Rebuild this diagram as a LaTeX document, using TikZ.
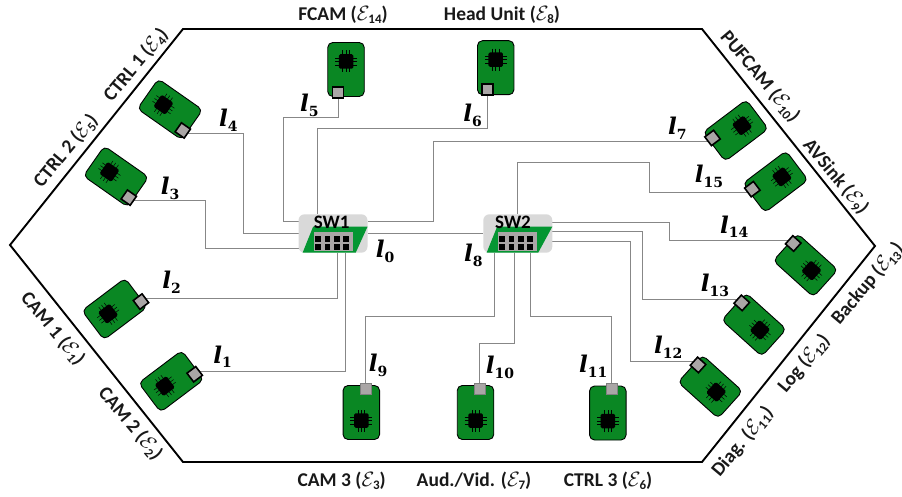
\documentclass[tikz,border=0pt]{standalone}
\usepackage[no-math]{fontspec}
\setmainfont{Carlito}
\newfontfamily\linkfont{DejaVu Serif}
\usetikzlibrary{backgrounds}
\definecolor{boardgreen}{RGB}{10,135,35}
\definecolor{swgreen}{RGB}{4,150,50}
\definecolor{swgray}{RGB}{217,217,217}
\definecolor{portgray}{RGB}{170,166,166}
\definecolor{wiregray}{RGB}{135,135,135}
\tikzset{
  board/.style={draw=black,line width=0.9pt,fill=boardgreen,rounded corners=5pt,minimum width=54pt,minimum height=36.5pt,inner sep=0pt},
  chip/.style={fill=black,rounded corners=1.5pt,minimum size=14.5pt,inner sep=0pt},
  pin/.style={line width=0.5pt,black},
  portdark/.style={draw=black,line width=1.6pt,fill=portgray,minimum size=11pt,inner sep=0pt},
  portlight/.style={draw=gray,line width=0.5pt,fill=portgray,minimum size=11pt,inner sep=0pt},
  wire/.style={draw=wiregray,line width=1pt},
  hexa/.style={draw=black,line width=1.9pt,line join=miter},
  caption/.style={font=\fontsize{19.5}{22}\selectfont\bfseries,inner sep=0pt,text=black!90},
  linklab/.style={font=\fontsize{23}{28}\selectfont\linkfont\bfseries,inner sep=0pt},
  swbox/.style={fill=swgray,rounded corners=6pt,minimum width=69pt,minimum height=38.4pt,inner sep=0pt},
  swlab/.style={font=\fontsize{19}{22}\selectfont\bfseries,inner sep=0pt}
}
\newcommand{\ee}[1]{$\mathcal{E}$\hspace{-1.2pt}\raisebox{-0.35ex}{\fontsize{13}{13}\selectfont\bfseries #1}}
\newcommand{\lk}[1]{{\itshape l}\raisebox{-0.4ex}{\fontsize{14}{14}\selectfont #1}}
\newcommand{\ecu}[7]{%
  \begin{scope}[shift={(#2,#3)},rotate=#4,transform shape]
    \node[board] (#1) at (0,0) {};
    \foreach \k in {-3.4,0,3.4}{
      \draw[pin] (-19,\k) -- (3,\k);
      \draw[pin] (-8+\k,-11) -- (-8+\k,11);
    }
    \node[chip] (#1c) at (-8,0) {};
    \node[#7] (#1p) at (#5,#6) {};
  \end{scope}}
\newcommand{\switchbox}[4]{%
  \node[swbox] (#1) at (#2,233.5) {};
  \begin{scope}[shift={(#2,233.5)}]
    \fill[swgreen] (-#3-1.2,-6.8) -- (34.5,-6.8) -- (#4,19) -- (-#3-11.6,19) -- cycle;
    \fill[portgray] (-#3,-1.3) rectangle (38.4-#3,17.5);
    \foreach \cx in {4,13.2,22.6,31.8}{
      \foreach \cy in {5.4,13.8}{
        \fill[black] (-#3+\cx-2.9,\cy-2.9) rectangle (-#3+\cx+2.9,\cy+2.9);
      }
    }
  \end{scope}}
\begin{document}
\begin{tikzpicture}[x=1pt,y=-1pt]
\useasboundingbox (0,0) rectangle (902,497);
\draw[hexa] (183,29) -- (702,29) -- (875,246) -- (702,462) -- (183,462) -- (10,245) -- cycle;

% ECUs: name, cx, cy, angle, u, s, port style
\ecu{ctrlA}{170}{109.3}{-35}{22.6}{10}{portdark}
\ecu{ctrlB}{116}{176.5}{-35}{22.6}{10}{portdark}
\ecu{fcam}{346}{69.5}{-90}{23}{8}{portdark}
\ecu{head}{495.7}{67.7}{-90}{21.6}{8}{portdark}
\ecu{pufcam}{735.7}{130.5}{217}{23}{8}{portdark}
\ecu{avsink}{775.5}{181.7}{217}{23}{8}{portdark}
\ecu{backup}{805.5}{265.3}{138}{23.7}{8}{portdark}
\ecu{logu}{754}{324.7}{138}{23.7}{8}{portdark}
\ecu{diag}{710.3}{386.7}{138}{23.7}{8}{portdark}
\ecu{camA}{114.5}{309}{37}{25.6}{10}{portdark}
\ecu{camB}{171.2}{381.3}{37}{23}{8.5}{portdark}
\ecu{camC}{361.3}{412.5}{90}{24}{4.4}{portlight}
\ecu{aud}{475.5}{412.5}{90}{24}{4.4}{portlight}
\ecu{ctrlC}{607.8}{413}{90}{24}{3.6}{portlight}

% switches
\switchbox{swA}{333}{18.7}{22.8}
\switchbox{swB}{517.8}{19.5}{20.5}
\node[swlab] (swAl) at (331.7,222.3) {SW1};
\node[swlab] (swBl) at (513,222.3) {SW2};

% attachment points on the switches
\coordinate (a1) at (345.7,252.7);
\coordinate (a2) at (337,252.7);
\coordinate (a3) at (298.5,248.7);
\coordinate (a4) at (298.5,233.7);
\coordinate (a5) at (298.5,221.7);
\coordinate (a6) at (317.7,214.3);
\coordinate (a7) at (367.5,221.7);
\coordinate (a15) at (517.3,214.3);
\coordinate (a14) at (552.3,222.3);
\coordinate (a13) at (552.3,231.7);
\coordinate (a12) at (552.3,241);
\coordinate (a11) at (530.7,252.7);
\coordinate (a10) at (514,252.7);
\coordinate (a9) at (494,252.7);

\begin{scope}[on background layer]
  \draw[wire] (swA.east) -- (swB.west);
  \draw[wire] ([yshift=3pt]camBp.center) -| (a1);
  \draw[wire] ([yshift=3pt]camAp.center) -| (a2);
  \draw[wire] ([yshift=-3pt]ctrlBp.center) -- ([yshift=-3pt]ctrlBp.center -| 205.3,0) |- (a3);
  \draw[wire] ([yshift=-2.7pt]ctrlAp.center) -- ([yshift=-2.7pt]ctrlAp.center -| 243.3,0) |- (a4);
  \draw[wire] (fcamp.center) |- (283.3,117.3) |- (a5);
  \draw[wire] (headp.center) |- (317.7,129) -- (a6);
  \draw[wire] ([yshift=-3.3pt]pufcamp.center) -- ([yshift=-3.3pt]pufcamp.center -| 433.7,0) |- (a7);
  \draw[wire] ([yshift=-3pt]avsinkp.center) -- ([yshift=-3pt]avsinkp.center -| 649.7,0) |- (517.3,162.3) -- (a15);
  \draw[wire] ([yshift=3pt]backupp.center) -- ([yshift=3pt]backupp.center -| 669.3,0) |- (a14);
  \draw[wire] ([yshift=3.3pt]logup.center) -- ([yshift=3.3pt]logup.center -| 642.3,0) |- (a13);
  \draw[wire] ([yshift=3pt]diagp.center) -- ([yshift=3pt]diagp.center -| 630,0) |- (a12);
  \draw[wire] (ctrlCp.center) |- (530.7,316.7) -- (a11);
  \draw[wire] (audp.center) |- (514,343.5) -- (a10);
  \draw[wire] (camCp.center) |- (494,316) -- (a9);
\end{scope}

% captions
\node[caption] (tA) at (343,15) {FCAM (\ee{14})};
\node[caption] (tB) at (502,15) {Head Unit (\ee{8})};
\node[caption] (tC) at (341.7,480.7) {CAM 3 (\ee{3})};
\node[caption] (tD) at (474,480.7) {Aud./Vid. (\ee{7})};
\node[caption] (tE) at (608,480.7) {CTRL 3 (\ee{6})};
\node[caption,rotate=50] (tF) at (136,65) {CTRL 1 (\ee{4})};
\node[caption,rotate=50] (tG) at (66,150.7) {CTRL 2 (\ee{5})};
\node[caption,rotate=-50] (tH) at (760,76.7) {PUFCAM (\ee{10})};
\node[caption,rotate=-50] (tI) at (835.7,176.7) {AVSink (\ee{9})};
\node[caption,rotate=50] (tJ) at (867.5,284) {Backup (\ee{13})};
\node[caption,rotate=50] (tK) at (804,363.3) {Log (\ee{12})};
\node[caption,rotate=50] (tL) at (742.5,441.7) {Diag. (\ee{11})};
\node[caption,rotate=-50] (tM) at (52.7,329) {CAM 1 (\ee{1})};
\node[caption,rotate=-50] (tN) at (130.3,423.3) {CAM 2 (\ee{2})};

% link labels
\node[linklab] (l0) at (385,251.7) {\lk{0}};
\node[linklab] (l8) at (473.3,255) {\lk{8}};
\node[linklab] (l1) at (222.7,356.7) {\lk{1}};
\node[linklab] (l2) at (171.7,282.3) {\lk{2}};
\node[linklab] (l3) at (170,188.3) {\lk{3}};
\node[linklab] (l4) at (228.3,120) {\lk{4}};
\node[linklab] (l5) at (309.3,105) {\lk{5}};
\node[linklab] (l6) at (472.7,115) {\lk{6}};
\node[linklab] (l7) at (677.3,128.3) {\lk{7}};
\node[linklab] (l15) at (709,176.7) {\lk{15}};
\node[linklab] (l14) at (734.3,226.7) {\lk{14}};
\node[linklab] (l13) at (715,285) {\lk{13}};
\node[linklab] (l12) at (668.3,347.3) {\lk{12}};
\node[linklab] (l11) at (593.3,366) {\lk{11}};
\node[linklab] (l10) at (500,367.3) {\lk{10}};
\node[linklab] (l9) at (378,365) {\lk{9}};
\end{tikzpicture}
\end{document}
